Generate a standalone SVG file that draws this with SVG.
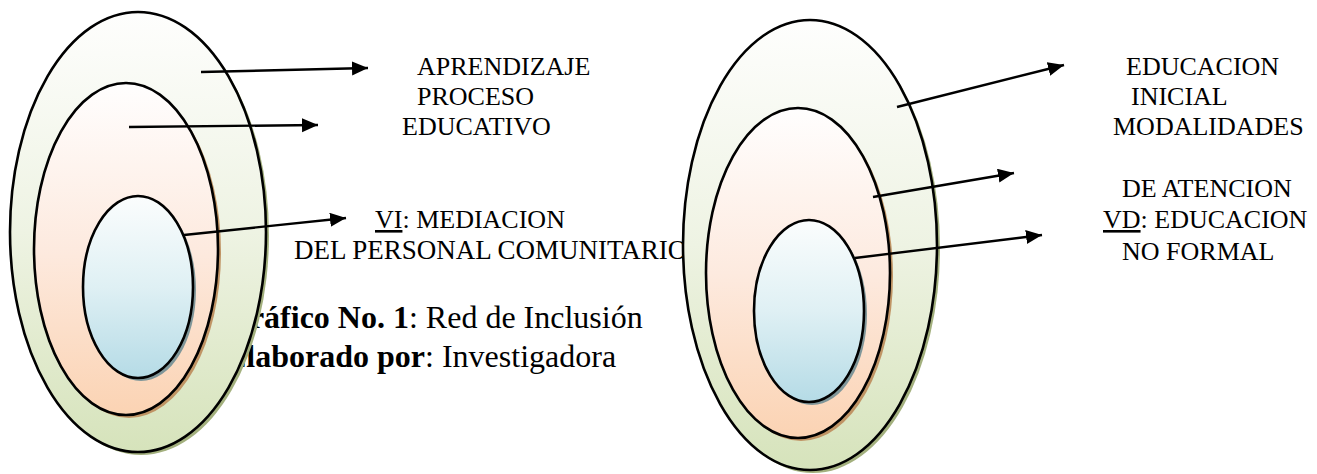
<svg xmlns="http://www.w3.org/2000/svg" width="1317" height="474" viewBox="0 0 1317 474">
<style>
  .lbl { font-family: "Liberation Serif", "Times New Roman", serif; font-size: 26px; fill: #000; }
  .cap { font-family: "Liberation Serif", "Times New Roman", serif; font-size: 32px; fill: #000; }
  .b { font-weight: bold; }
  .u { text-decoration: underline; }
  .ring { stroke: #000; stroke-width: 2.6; }
  .arrow { stroke: #000; stroke-width: 2.4; fill: none; marker-end: url(#ah); }
</style>
<defs>
  <linearGradient id="gGreen" x1="0" y1="0" x2="0" y2="1">
    <stop offset="0" stop-color="#fefefd"/>
    <stop offset="0.5" stop-color="#eef3e3"/>
    <stop offset="1" stop-color="#d6e3bb"/>
  </linearGradient>
  <linearGradient id="gPeach" x1="0" y1="0" x2="0" y2="1">
    <stop offset="0" stop-color="#fffefe"/>
    <stop offset="0.5" stop-color="#fdeadf"/>
    <stop offset="1" stop-color="#fbd3b3"/>
  </linearGradient>
  <linearGradient id="gBlue" x1="0" y1="0" x2="0" y2="1">
    <stop offset="0" stop-color="#fbfdfd"/>
    <stop offset="0.5" stop-color="#dff0f4"/>
    <stop offset="1" stop-color="#b5dbe6"/>
  </linearGradient>
  <marker id="ah" markerUnits="userSpaceOnUse" markerWidth="17" markerHeight="15" refX="16" refY="7" orient="auto">
    <path d="M0,0 L16,7 L0,14 z" fill="#000"/>
  </marker>
</defs>

<g id="labels-left">
  <text class="lbl" x="417" y="75">APRENDIZAJE</text>
  <text class="lbl" x="417" y="105">PROCESO</text>
  <text class="lbl" x="402" y="135">EDUCATIVO</text>
  <text class="lbl" x="375" y="228"><tspan class="u">VI</tspan>: MEDIACION</text>
  <text class="lbl" x="294" y="259" style="font-size:27px">DEL PERSONAL COMUNITARIO</text>
</g>

<g id="caption">
  <text class="cap" x="225" y="328"><tspan class="b">Gráfico No. 1</tspan>: Red de Inclusión</text>
  <text class="cap" x="225" y="367"><tspan class="b">Elaborado por</tspan>: Investigadora</text>
</g>

<g id="labels-right">
  <text class="lbl" x="1126" y="75">EDUCACION</text>
  <text class="lbl" x="1131" y="105">INICIAL</text>
  <text class="lbl" x="1113" y="135">MODALIDADES</text>
  <text class="lbl" x="1122" y="197">DE ATENCION</text>
  <text class="lbl" x="1103" y="228"><tspan class="u">VD</tspan>: EDUCACION</text>
  <text class="lbl" x="1122" y="260">NO FORMAL</text>
</g>

<g id="left-outer">
  <ellipse cx="141" cy="235" rx="128" ry="220" fill="#a3b07e"/>
  <ellipse class="ring" cx="138" cy="232" rx="128" ry="220" fill="url(#gGreen)"/>
</g>
<g id="left-middle">
  <ellipse cx="129" cy="252" rx="92" ry="166" fill="#c09465"/>
  <ellipse class="ring" cx="126" cy="249" rx="92" ry="166" fill="url(#gPeach)"/>
</g>
<g id="left-inner">
  <ellipse cx="141" cy="290" rx="55" ry="91" fill="#7f9699"/>
  <ellipse class="ring" cx="138" cy="287" rx="55" ry="91" fill="url(#gBlue)"/>
</g>

<g id="right-outer">
  <ellipse cx="813" cy="248" rx="127" ry="225" fill="#a3b07e"/>
  <ellipse class="ring" cx="810" cy="245" rx="127" ry="225" fill="url(#gGreen)"/>
</g>
<g id="right-middle">
  <ellipse cx="801" cy="276" rx="92" ry="165" fill="#c09465"/>
  <ellipse class="ring" cx="798" cy="273" rx="92" ry="165" fill="url(#gPeach)"/>
</g>
<g id="right-inner">
  <ellipse cx="812" cy="314" rx="55" ry="91" fill="#7f9699"/>
  <ellipse class="ring" cx="809" cy="311" rx="55" ry="91" fill="url(#gBlue)"/>
</g>

<g id="connectors">
  <line class="arrow" x1="201" y1="72" x2="368" y2="68"/>
  <line class="arrow" x1="129" y1="127" x2="318" y2="125"/>
  <line class="arrow" x1="184" y1="235" x2="346" y2="218"/>
  <line class="arrow" x1="897" y1="107" x2="1064" y2="65"/>
  <line class="arrow" x1="873" y1="197" x2="1014" y2="173"/>
  <line class="arrow" x1="855" y1="258" x2="1042" y2="235"/>
</g>
</svg>
